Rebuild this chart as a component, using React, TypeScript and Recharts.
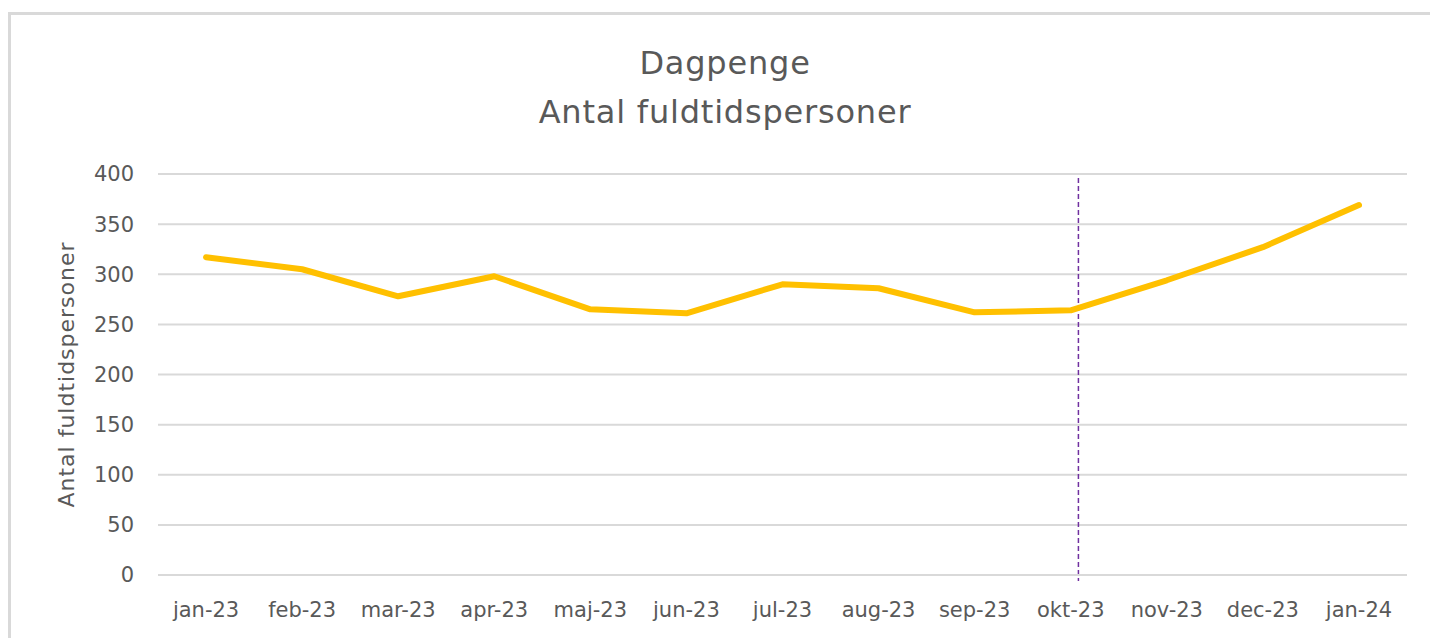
import React from "react";
import {
  LineChart,
  Line,
  XAxis,
  YAxis,
  CartesianGrid,
  ReferenceLine,
} from "recharts";

const months = [
  "jan-23", "feb-23", "mar-23", "apr-23", "maj-23", "jun-23", "jul-23",
  "aug-23", "sep-23", "okt-23", "nov-23", "dec-23", "jan-24",
];
const fullTimePersons = [317, 305, 278, 298, 265, 261, 290, 286, 262, 264, 294, 327, 369];
const yTicks = [0, 50, 100, 150, 200, 250, 300, 350, 400];
const titleLines = ["Dagpenge", "Antal fuldtidspersoner"];
const yAxisTitle = "Antal fuldtidspersoner";
// vertical marker just after okt-23 (in month-index units)
const markerPosition = 9.58;
const markerRange = [396, -6];

const data = months.map((m, i) => ({ month: m, index: i, value: fullTimePersons[i] }));

const FONT = "'DejaVu Sans', sans-serif";
const TEXT = "#595959";
const GRID = "#d9d9d9";

const YLabel = (props: any) => {
  const vb = props.viewBox || {};
  const cx = 55;
  const cy = (vb.y ?? 0) + (vb.height ?? 0) / 2;
  return (
    <text
      x={cx}
      y={cy}
      transform={`rotate(-90, ${cx}, ${cy})`}
      textAnchor="middle"
      dominantBaseline="central"
      fill={TEXT}
      fontSize={22}
      fontFamily={FONT}
      letterSpacing={1}
    >
      {yAxisTitle}
    </text>
  );
};

export default function App() {
  return (
    <div
      style={{
        position: "absolute",
        left: 8,
        top: 12,
        width: 1422,
        height: 626,
        borderTop: `3px solid ${GRID}`,
        borderLeft: `3px solid ${GRID}`,
        boxSizing: "border-box",
        overflow: "hidden",
        background: "#fff",
      }}
    >
      <div
        style={{
          position: "absolute",
          left: 0,
          top: 24,
          width: 1428,
          textAlign: "center",
          fontFamily: FONT,
          fontSize: 32,
          lineHeight: "49px",
          color: TEXT,
          letterSpacing: 0.8,
        }}
      >
        {titleLines.map((t) => (
          <div key={t}>{t}</div>
        ))}
      </div>
      <LineChart
        width={1419}
        height={623}
        data={data}
        margin={{ top: 159, right: 23, bottom: 0, left: 0 }}
      >
        <CartesianGrid horizontal vertical={false} stroke={GRID} strokeWidth={2} />
        <XAxis
          dataKey="month"
          scale="band"
          height={63}
          axisLine={{ stroke: GRID, strokeWidth: 2 }}
          tickLine={false}
          tickSize={0}
          tickMargin={27}
          interval={0}
          tick={{ fill: TEXT, fontSize: 21, fontFamily: FONT }}
        />
        <XAxis
          xAxisId="marker"
          dataKey="index"
          type="number"
          domain={[0, 13]}
          allowDataOverflow
          hide
        />
        <YAxis
          width={147}
          domain={[0, 400]}
          ticks={yTicks}
          interval={0}
          axisLine={false}
          tickLine={false}
          tickSize={0}
          tickMargin={24}
          tick={{ fill: TEXT, fontSize: 21, fontFamily: FONT }}
          label={<YLabel />}
        />
        <ReferenceLine
          xAxisId="marker"
          segment={[
            { x: markerPosition, y: markerRange[0] },
            { x: markerPosition, y: markerRange[1] },
          ]}
          ifOverflow="visible"
          stroke="#7030A0"
          strokeWidth={1.5}
          strokeDasharray="5 3"
        />
        <Line
          type="linear"
          dataKey="value"
          stroke="#FFC000"
          strokeWidth={6}
          strokeLinecap="round"
          strokeLinejoin="round"
          dot={false}
          activeDot={false}
          isAnimationActive={false}
        />
      </LineChart>
    </div>
  );
}
